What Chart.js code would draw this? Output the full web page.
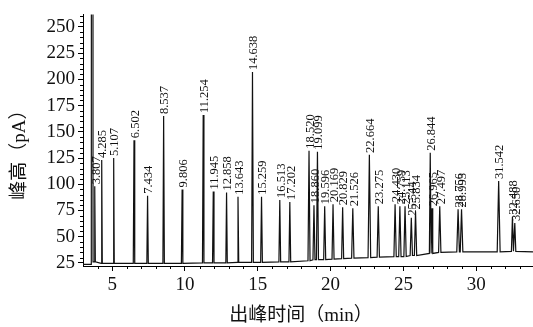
<!DOCTYPE html>
<html>
<head>
<meta charset="utf-8">
<script src="https://cdn.jsdelivr.net/npm/chart.js@4.4.0/dist/chart.umd.min.js"></script>
<style>
  html, body { margin: 0; padding: 0; background: #fff; }
  #wrap { width: 533px; height: 327px; }
</style>
</head>
<body>
<div id="wrap"><canvas id="c" width="533" height="327"></canvas></div>
<script>
// Retention times (min) of the labelled peaks
const peakTimes = [
  3.807, 4.285, 5.107, 6.502, 7.434, 8.537, 9.806, 11.254, 11.945, 12.858,
  13.643, 14.638, 15.259, 16.513, 17.202, 18.520, 18.860, 19.099, 19.596, 20.169,
  20.829, 21.526, 22.664, 23.275, 24.430, 24.759, 25.113, 25.544, 25.834, 26.844,
  26.965, 27.497, 28.756, 28.993, 31.542, 32.488, 32.650
];
// Peak apex heights (pA)
const peakHeights = [
  98, 123, 125, 142, 89, 165, 95, 166, 93, 92,
  88, 207, 88, 85, 83, 132, 80, 131, 79, 81,
  78, 77, 128, 79, 81, 79, 79, 68, 74, 130,
  77, 79, 76, 76, 103, 69, 63
];
// Half width of each peak at its foot (min)
const peakHalfWidths = [
  0.04, 0.04, 0.04, 0.05, 0.05, 0.05, 0.05, 0.05, 0.05, 0.05,
  0.05, 0.06, 0.06, 0.06, 0.06, 0.07, 0.07, 0.07, 0.07, 0.07,
  0.07, 0.08, 0.09, 0.08, 0.08, 0.08, 0.08, 0.08, 0.08, 0.06,
  0.05, 0.08, 0.09, 0.09, 0.10, 0.07, 0.07
];
// Detector baseline level under each peak (pA)
const peakBaselines = [
  26, 24.5, 24.5, 24.5, 24.5, 24.5, 24.5, 25, 25, 25,
  25.5, 25.5, 25.5, 26, 26, 27, 28, 28, 28, 28.5,
  29, 29.5, 30, 30.5, 31, 31, 31, 32, 32, 34,
  34, 35, 35.5, 35.5, 35.5, 36, 36
];
// Solvent front (off scale)
const solventTime = 3.63;
const solventHeight = 3000;
const solventHalfWidth = 0.06;
// Trace ends
const traceStartTime = 3.0, traceStartLevel = 23.5;
const traceEndTime = 33.9, traceEndLevel = 35.5;

// Axis ticks
const xTickValues = [5, 10, 15, 20, 25, 30];
const yTickValues = [25, 50, 75, 100, 125, 150, 175, 200, 225, 250];

// Axis titles
const xTitle = '出峰时间（min）';
const yTitle = '峰高（pA）';

// Assemble the chromatogram trace as (time, signal) vertices
const trace = [{ x: traceStartTime, y: traceStartLevel }];
trace.push({ x: solventTime - solventHalfWidth, y: traceStartLevel });
trace.push({ x: solventTime, y: solventHeight });
trace.push({ x: solventTime + solventHalfWidth, y: peakBaselines[0] });
peakTimes.forEach((t, i) => {
  const hw = peakHalfWidths[i], b = peakBaselines[i];
  trace.push({ x: t - hw, y: b });
  trace.push({ x: t, y: peakHeights[i] });
  trace.push({ x: t + hw, y: b });
});
trace.push({ x: traceEndTime, y: traceEndLevel });

const SERIF = '"Liberation Serif", "Times New Roman", serif';
const MIXED = '"Liberation Serif", "Noto Sans CJK SC", serif';

// Peak retention-time annotations, axis titles and minor axis ticks
const annotate = {
  id: 'annotate',
  afterDatasetsDraw(chart) {
    const { ctx, scales: { x, y } } = chart;
    ctx.save();
    ctx.fillStyle = '#111';
    ctx.font = '12.5px ' + SERIF;
    ctx.textAlign = 'left';
    ctx.textBaseline = 'middle';
    peakTimes.forEach((t, i) => {
      const px = x.getPixelForValue(t);
      const py = y.getPixelForValue(peakHeights[i]) - 2;
      ctx.save();
      ctx.translate(px, py);
      ctx.rotate(-Math.PI / 2);
      ctx.fillText(t.toFixed(3), 0, 1.5);
      ctx.restore();
    });
    ctx.restore();
  },
  afterDraw(chart) {
    const { ctx, chartArea: a, scales: { x, y } } = chart;
    ctx.save();
    ctx.strokeStyle = '#000';
    ctx.lineWidth = 1;
    ctx.beginPath();
    for (let v = 4; v <= 33; v++) {
      if (v % 5 === 0) continue;
      const px = Math.round(x.getPixelForValue(v)) + 0.5;
      ctx.moveTo(px, a.bottom);
      ctx.lineTo(px, a.bottom + 3);
    }
    for (let v = 25; v <= 260; v += 5) {
      if (v % 25 === 0) continue;
      const py = Math.round(y.getPixelForValue(v)) + 0.5;
      ctx.moveTo(a.left - 3, py);
      ctx.lineTo(a.left, py);
    }
    ctx.stroke();

    // axis titles
    ctx.fillStyle = '#111';
    ctx.font = '19px ' + MIXED;
    ctx.textAlign = 'center';
    ctx.textBaseline = 'middle';
    ctx.fillText(xTitle, (a.left + a.right) / 2 - 7, 316);
    ctx.save();
    ctx.translate(20, (a.top + a.bottom) / 2 + 10);
    ctx.rotate(-Math.PI / 2);
    ctx.fillText(yTitle, 0, 0);
    ctx.restore();
    ctx.restore();
  }
};

new Chart(document.getElementById('c'), {
  type: 'scatter',
  data: {
    datasets: [{
      data: trace,
      showLine: true,
      borderColor: '#111',
      borderWidth: 1.2,
      pointRadius: 0,
      tension: 0,
      fill: false
    }]
  },
  options: {
    responsive: false,
    devicePixelRatio: 1,
    animation: false,
    layout: { padding: { top: 7, right: 0, left: 0, bottom: 0 } },
    plugins: { legend: { display: false }, tooltip: { enabled: false } },
    scales: {
      x: {
        type: 'linear',
        min: 3.0,
        max: 33.9,
        afterBuildTicks: s => { s.ticks = xTickValues.map(v => ({ value: v })); },
        afterFit: s => { s.height = 61; },
        border: { display: true, color: '#000', width: 1 },
        grid: { display: true, drawOnChartArea: false, drawTicks: true, tickLength: 5, color: '#000' },
        ticks: { color: '#111', font: { family: SERIF, size: 19 }, padding: 3, maxRotation: 0, autoSkip: false }
      },
      y: {
        type: 'linear',
        min: 22,
        max: 262,
        afterBuildTicks: s => { s.ticks = yTickValues.map(v => ({ value: v })); },
        afterFit: s => { s.width = 83; },
        border: { display: true, color: '#000', width: 1 },
        grid: { display: true, drawOnChartArea: false, drawTicks: true, tickLength: 5, color: '#000' },
        ticks: { color: '#111', font: { family: SERIF, size: 19 }, padding: 3, autoSkip: false }
      }
    }
  },
  plugins: [annotate]
});
</script>
</body>
</html>
